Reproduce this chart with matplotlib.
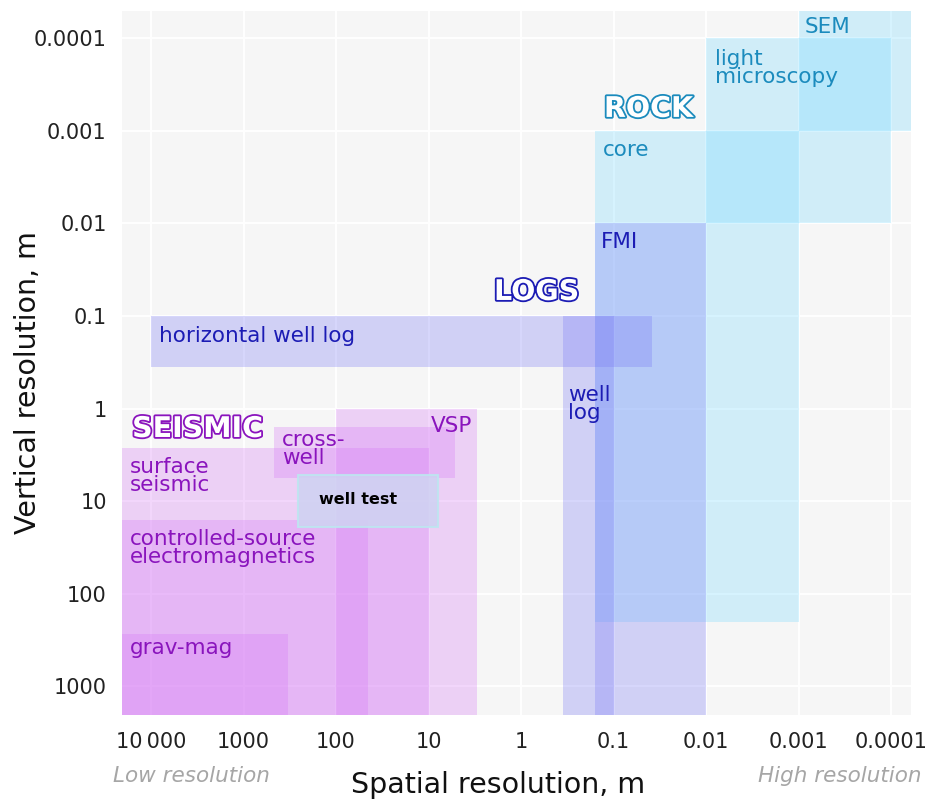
import matplotlib
matplotlib.use('Agg')
import matplotlib.pyplot as plt
import matplotlib.patheffects as pe
from matplotlib.patches import Rectangle

# resolution ranges of each method, in metres
# x = spatial resolution, y = vertical resolution
names = ['core', 'light microscopy', 'SEM',
         'horizontal well log', 'well log', 'FMI',
         'surface seismic', 'controlled-source electromagnetics', 'grav-mag',
         'cross-well', 'VSP', 'well test']
groups = ['rock'] * 3 + ['logs'] * 3 + ['seismic'] * 5 + ['test']
x_coarse = [0.16, 0.01, 0.001, 10000, 0.35, 0.16, 1e5, 1e5, 1e5, 470, 100, 260]
x_fine = [0.001, 0.0001, 1e-5, 0.038, 0.1, 0.01, 10, 45, 330, 5.2, 3, 8]
y_fine = [0.001, 0.0001, 1e-5, 0.1, 0.1, 0.01, 2.7, 16, 270, 1.6, 1, 5.2]
y_coarse = [200, 0.01, 0.001, 0.36, 1e4, 1e4, 1e4, 1e4, 1e4, 5.6, 1e4, 19]

# labels and where they sit (top left corner, data coords)
label_text = ['core', 'light\nmicroscopy', 'SEM', 'horizontal well log', 'well\nlog', 'FMI',
              'surface\nseismic', 'controlled-source\nelectromagnetics', 'grav-mag',
              'cross-\nwell', 'VSP', 'well test']
label_x = [0.13, 0.008, 8.7e-4, 8200, 0.31, 0.136, 16870, 16870, 16870, 384, 9.4, 153]
label_y = [1.25e-3, 1.3e-4, 5.9e-5, 0.127, 0.552, 0.0123, 3.31, 19.8, 298, 1.69, 1.19, 7.97]

headers = ['ROCK', 'LOGS', 'SEISMIC']
header_x = [0.127, 1.96, 16000]
header_y = [7.1e-4, 0.0673, 2.03]

ticks = [10000, 1000, 100, 10, 1, 0.1, 0.01, 0.001, 0.0001]
xtick_labels = ['10\u2009000', '1000', '100', '10', '1', '0.1', '0.01', '0.001', '0.0001']
yticks = [0.0001, 0.001, 0.01, 0.1, 1, 10, 100, 1000]
ytick_labels = ['0.0001', '0.001', '0.01', '0.1', '1', '10', '100', '1000']

face = {'rock': '#7adaff', 'logs': '#7a7af5', 'seismic': '#d77af5', 'test': '#cfd2f2'}
ink = {'rock': '#1b8bbd', 'logs': '#1c1cb4', 'seismic': '#8a14bd', 'test': 'black'}

fig = plt.figure(figsize=(9.29, 8.0), dpi=100)
ax = fig.add_axes([0.1313, 0.10625, 0.8493, 0.88])
ax.set_facecolor('#f6f6f6')
ax.set_xscale('log')
ax.set_yscale('log')
ax.set_xlim(2.06e4, 6.1e-5)
ax.set_ylim(2040, 5.1e-5)

for i in range(len(names)):
    g = groups[i]
    x0, x1 = x_fine[i], x_coarse[i]
    y0, y1 = y_fine[i], y_coarse[i]
    if g == 'test':
        r = Rectangle((x0, y0), x1 - x0, y1 - y0, facecolor=face[g], alpha=0.88,
                      edgecolor='#bde6f0', linewidth=1.5, zorder=3)
    else:
        r = Rectangle((x0, y0), x1 - x0, y1 - y0, facecolor=face[g], alpha=0.3,
                      edgecolor='none', zorder=2)
    ax.add_patch(r)

for i in range(len(names)):
    g = groups[i]
    if g == 'test':
        ax.text(label_x[i], label_y[i], label_text[i], color=ink[g], fontsize=11.5,
                fontweight='bold', ha='left', va='top', zorder=5)
    else:
        ax.text(label_x[i], label_y[i], label_text[i], color=ink[g], fontsize=15.5,
                ha='left', va='top', linespacing=0.92, zorder=5)

for t, x, y, g in zip(headers, header_x, header_y, ['rock', 'logs', 'seismic']):
    ax.text(x, y, t, color='white', fontsize=20.5, fontweight='bold', ha='left',
            va='baseline', zorder=5,
            path_effects=[pe.withStroke(linewidth=2.6, foreground=ink[g])])

ax.set_xticks(ticks, xtick_labels)
ax.set_yticks(yticks, ytick_labels)
ax.minorticks_off()
ax.tick_params(length=0, labelsize=15, colors='#222222')
ax.tick_params(axis='x', pad=12)
ax.tick_params(axis='y', pad=11)
ax.grid(True, color='white', linewidth=1.3)
ax.set_axisbelow(True)
for s in ax.spines.values():
    s.set_visible(False)

ax.set_xlabel('Spatial resolution, m', fontsize=20.5, color='#111111')
ax.xaxis.set_label_coords(0.4766, -0.0795)
ax.set_ylabel('Vertical resolution, m', fontsize=20.5, color='#111111')
ax.yaxis.set_label_coords(-0.1014, 0.4723)

fig.text(113 / 929, 1 - 782 / 800, 'Low resolution', fontsize=15.5, style='italic',
         color='#a6a6a6', ha='left', va='baseline')
fig.text(922 / 929, 1 - 782 / 800, 'High resolution', fontsize=15.5, style='italic',
         color='#a6a6a6', ha='right', va='baseline')

fig.savefig('out.png', dpi=100)
